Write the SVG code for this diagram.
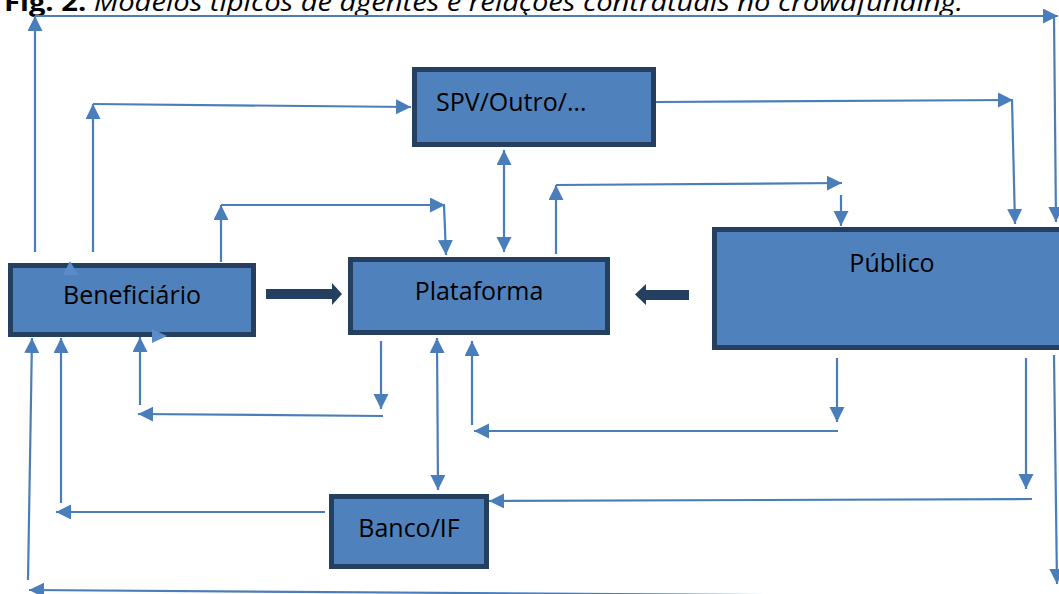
<svg xmlns="http://www.w3.org/2000/svg" width="1059" height="594" viewBox="0 0 1059 594">
  <style>
    .box { fill: #4F81BD; stroke: #243F60; stroke-width: 5; }
    .lbl { font-family: "Open Sans", "Liberation Sans", sans-serif; font-size: 25px; fill: #000; }
    .title { font-family: "Open Sans", "Liberation Sans", sans-serif; font-size: 25px; fill: #000; }
    .c { fill: none; stroke: #4A7EBB; stroke-width: 2.2; }
    .e { marker-end: url(#ah); }
    .s { marker-start: url(#ahs); }
    .thick { fill: #243F60; }
    .ghost { fill: #5A8CCB; }
  </style>
  <defs>
    <marker id="ah" markerUnits="userSpaceOnUse" markerWidth="16" markerHeight="16" refX="15" refY="7.5" orient="auto">
      <path d="M0,0 L15,7.5 L0,15 z" fill="#4A7EBB"/>
    </marker>
    <marker id="ahs" markerUnits="userSpaceOnUse" markerWidth="16" markerHeight="16" refX="15" refY="7.5" orient="auto-start-reverse">
      <path d="M0,0 L15,7.5 L0,15 z" fill="#4A7EBB"/>
    </marker>
  </defs>

  <text class="title" x="4" y="11" textLength="959" lengthAdjust="spacingAndGlyphs"><tspan font-weight="bold">Fig. 2.</tspan><tspan font-style="italic"> Modelos típicos de agentes e relações contratuais no crowdfunding.</tspan></text>

  <g id="connectors">
    <path class="c e" d="M35,252 L35,16"/>
    <path class="c e" d="M35,16 L1058,16"/>
    <path class="c e" d="M1054,16 L1056,222"/>
    <path class="c e" d="M93,252 L93,104"/>
    <path class="c e" d="M93,104 L411,107"/>
    <path class="c e" d="M221,262 L221,205"/>
    <path class="c e" d="M221,205 L445,205"/>
    <path class="c e" d="M444,205 L446,255"/>
    <path class="c e s" d="M504,150 L504,252"/>
    <path class="c e" d="M656,102 L1013,100"/>
    <path class="c e" d="M1012,100 L1015,224"/>
    <path class="c e" d="M556,254 L556,185"/>
    <path class="c e" d="M556,185 L842,183"/>
    <path class="c e" d="M841,195 L841,226"/>
    <path class="c e" d="M381,341 L381,409"/>
    <path class="c e" d="M383,416 L138,414"/>
    <path class="c e" d="M140,405 L140,337"/>
    <path class="c e s" d="M437,338 L438,490"/>
    <path class="c e" d="M837,358 L837,422"/>
    <path class="c e" d="M838,431 L474,431"/>
    <path class="c e" d="M472,425 L472,341"/>
    <path class="c e" d="M1026,358 L1026,489"/>
    <path class="c e" d="M1032,499 L489,501"/>
    <path class="c e" d="M325,512 L56,512"/>
    <path class="c e" d="M61,503 L61,338"/>
    <path class="c e" d="M28,580 L32,338"/>
    <path class="c e" d="M1055,597 L29,590"/>
    <path class="c e" d="M1054,355 L1057,584"/>
    <polygon class="thick" points="266,289 332,289 332,283 342,294 332,305 332,299 266,299"/>
    <polygon class="thick" points="689,290 646,290 646,284 635,294.5 646,305 646,300 689,300"/>
  </g>

  <g id="spv">
    <rect class="box" x="414.5" y="69.5" width="239" height="75"/>
    <text class="lbl" x="436" y="111">SPV/Outro/…</text>
  </g>

  <g id="beneficiario">
    <rect class="box" x="10.5" y="265.5" width="243" height="69"/>
    <text class="lbl" x="132" y="304" text-anchor="middle">Beneficiário</text>
    <polygon class="ghost" points="70,261 78,275 63,275"/>
    <polygon class="ghost" points="167,336 152,329 152,343"/>
  </g>

  <g id="plataforma">
    <rect class="box" x="350.5" y="259.5" width="257" height="73"/>
    <text class="lbl" x="479" y="300" text-anchor="middle">Plataforma</text>
  </g>

  <g id="publico">
    <rect class="box" x="714.5" y="229.5" width="360" height="118"/>
    <text class="lbl" x="892" y="272" text-anchor="middle">Público</text>
  </g>

  <g id="banco">
    <rect class="box" x="331.5" y="496.5" width="155" height="70"/>
    <text class="lbl" x="409" y="537" text-anchor="middle">Banco/IF</text>
  </g>
</svg>
